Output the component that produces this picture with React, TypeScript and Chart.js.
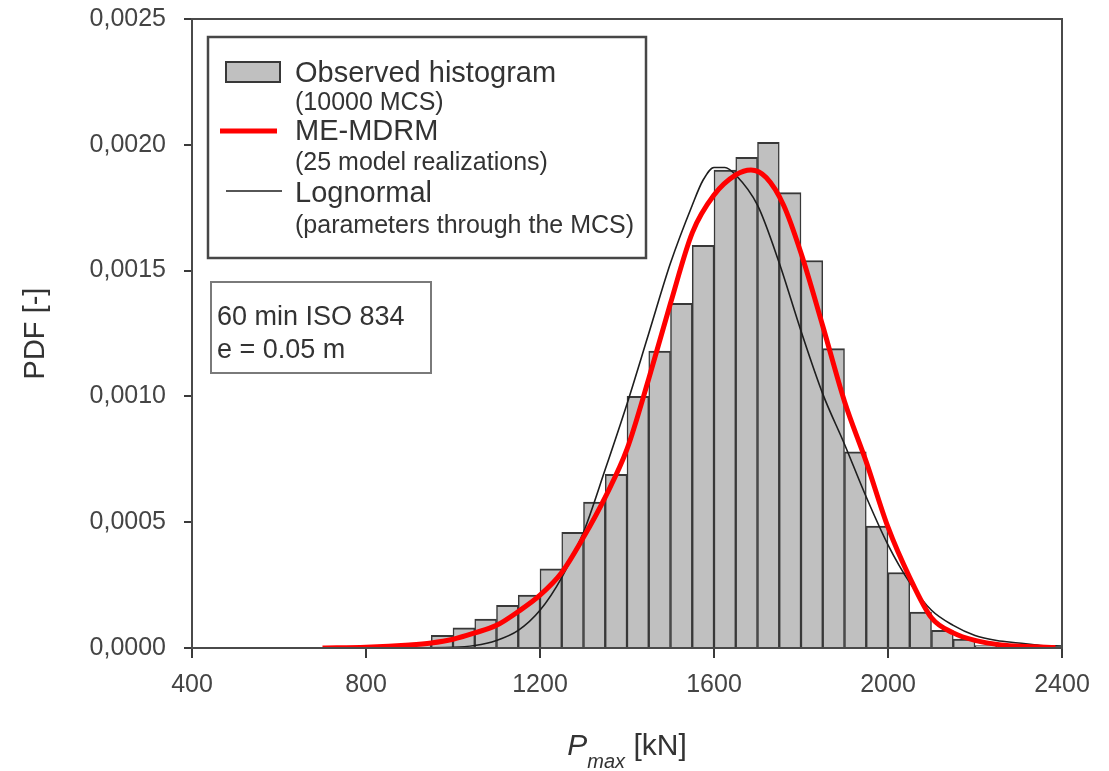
import React, { useEffect, useRef } from 'react';
import { Chart, registerables } from 'chart.js';

Chart.register(...registerables);

const FONT = "'Liberation Sans', Arial, Helvetica, sans-serif";

// Histogram (bin width 50 kN), bin centres and densities
const binCenters = [925, 975, 1025, 1075, 1125, 1175, 1225, 1275, 1325, 1375, 1425, 1475, 1525, 1575, 1625, 1675, 1725, 1775, 1825, 1875, 1925, 1975, 2025, 2075, 2125, 2175, 2225];
const histDensity = [0.00002, 0.00005, 0.00008, 0.000115, 0.00017, 0.00021, 0.000315, 0.00046, 0.00058, 0.00069, 0.001, 0.00118, 0.00137, 0.0016, 0.0019, 0.00195, 0.00201, 0.00181, 0.00154, 0.00119, 0.00078, 0.000485, 0.0003, 0.000143, 0.00007, 0.000035, 0.00001];

// ME-MDRM curve
const meX = [700, 800, 900, 950, 1000, 1050, 1100, 1150, 1200, 1250, 1300, 1350, 1400, 1450, 1500, 1550, 1600, 1650, 1685, 1720, 1760, 1800, 1850, 1900, 1950, 2000, 2050, 2100, 2150, 2200, 2260, 2320, 2385];
const meY = [0, 0.000003, 0.000012, 0.00002, 0.000035, 0.00006, 0.00009, 0.000145, 0.00021, 0.0003, 0.00044, 0.0006, 0.00079, 0.00107, 0.00137, 0.00165, 0.0018, 0.00188, 0.0019, 0.00187, 0.00176, 0.00157, 0.00128, 0.00098, 0.00074, 0.00048, 0.00028, 0.00012, 0.00006, 0.00003, 0.000012, 0.000006, 0.000002];

// Lognormal curve
const lnX = [400, 800, 1000, 1050, 1100, 1150, 1200, 1250, 1300, 1350, 1400, 1450, 1500, 1550, 1575, 1600, 1625, 1650, 1700, 1750, 1800, 1850, 1900, 1950, 2000, 2050, 2100, 2150, 2200, 2250, 2300, 2350, 2400];
const lnY = [0, 0, 0.000003, 0.00001, 0.00003, 0.00007, 0.00015, 0.00028, 0.00046, 0.00071, 0.00097, 0.00125, 0.00153, 0.00176, 0.00186, 0.00191, 0.00191, 0.00188, 0.00176, 0.00153, 0.00126, 0.00101, 0.00081, 0.0006, 0.00041, 0.00026, 0.00015, 0.00009, 0.00005, 0.00003, 0.00002, 0.00001, 0.000008];

const xRange = [400, 2400];
const xStep = 400;
const yRange = [0, 0.0025];
const yStep = 0.0005;

const legendLabels = ['Observed histogram', 'ME-MDRM', 'Lognormal'];
const legendSubLabels = ['(10000 MCS)', '(25 model realizations)', '(parameters through the MCS)'];
const noteLines = ['60 min ISO 834', 'e = 0.05 m'];
const yTitle = 'PDF [-]';
const xTitleMain = 'P';
const xTitleSub = 'max';
const xTitleUnit = ' [kN]';

const HIST_FILL = '#c0c0c0';
const HIST_EDGE = '#383838';
const RED = '#ff0000';
const BLACK = '#1e1e1e';

const decorPlugin = {
  id: 'decor',
  afterDraw(chart: any) {
    const ctx = chart.ctx as CanvasRenderingContext2D;
    const a = chart.chartArea;
    ctx.save();
    // frame
    ctx.strokeStyle = '#4a4a4a';
    ctx.lineWidth = 2;
    ctx.strokeRect(a.left, a.top, a.right - a.left, a.bottom - a.top);

    // legend box
    ctx.fillStyle = '#ffffff';
    ctx.fillRect(208, 37, 438, 221);
    ctx.strokeStyle = '#474747';
    ctx.lineWidth = 2.5;
    ctx.strokeRect(208, 37, 438, 221);

    // swatches
    ctx.fillStyle = HIST_FILL;
    ctx.fillRect(226, 62, 54, 20);
    ctx.strokeStyle = HIST_EDGE;
    ctx.lineWidth = 2;
    ctx.strokeRect(226, 62, 54, 20);

    ctx.strokeStyle = RED;
    ctx.lineWidth = 5;
    ctx.beginPath();
    ctx.moveTo(220, 131);
    ctx.lineTo(277, 131);
    ctx.stroke();

    ctx.strokeStyle = BLACK;
    ctx.lineWidth = 1.6;
    ctx.beginPath();
    ctx.moveTo(226, 191);
    ctx.lineTo(282, 191);
    ctx.stroke();

    ctx.fillStyle = '#333333';
    ctx.textAlign = 'left';
    ctx.textBaseline = 'alphabetic';
    const mainY = [82, 140, 202];
    const subY = [110, 170, 233];
    for (let i = 0; i < legendLabels.length; i++) {
      ctx.font = `29px ${FONT}`;
      ctx.fillText(legendLabels[i], 295, mainY[i]);
      ctx.font = `25px ${FONT}`;
      ctx.fillText(legendSubLabels[i], 295, subY[i]);
    }

    // note box
    ctx.fillStyle = '#ffffff';
    ctx.fillRect(211, 282, 220, 91);
    ctx.strokeStyle = '#7a7a7a';
    ctx.lineWidth = 2;
    ctx.strokeRect(211, 282, 220, 91);
    ctx.fillStyle = '#333333';
    ctx.font = `27px ${FONT}`;
    ctx.fillText(noteLines[0], 217, 325);
    ctx.fillText(noteLines[1], 217, 358);

    // x axis title with subscript
    const cx = (a.left + a.right) / 2;
    ctx.font = `italic 30px ${FONT}`;
    const wP = ctx.measureText(xTitleMain).width;
    ctx.font = `italic 20px ${FONT}`;
    const wS = ctx.measureText(xTitleSub).width;
    ctx.font = `30px ${FONT}`;
    const wU = ctx.measureText(xTitleUnit).width;
    let x = cx - (wP + wS + wU) / 2;
    ctx.fillStyle = '#333333';
    ctx.font = `italic 30px ${FONT}`;
    ctx.fillText(xTitleMain, x, 755);
    x += wP;
    ctx.font = `italic 20px ${FONT}`;
    ctx.fillText(xTitleSub, x, 768);
    x += wS;
    ctx.font = `30px ${FONT}`;
    ctx.fillText(xTitleUnit, x, 755);
    ctx.restore();
  },
};

export default function App() {
  const ref = useRef<HTMLCanvasElement | null>(null);
  useEffect(() => {
    if (!ref.current) return;
    const histData = binCenters.map((c, i) => ({ x: c, y: histDensity[i] }));
    const meData = meX.map((v, i) => ({ x: v, y: meY[i] }));
    const lnData = lnX.map((v, i) => ({ x: v, y: lnY[i] }));
    const chart = new Chart(ref.current, {
      type: 'bar',
      data: {
        datasets: [
          {
            type: 'line',
            label: legendLabels[1],
            data: meData,
            borderColor: RED,
            borderWidth: 5,
            pointRadius: 0,
            cubicInterpolationMode: 'monotone',
            fill: false,
            order: 1,
          } as any,
          {
            type: 'line',
            label: legendLabels[2],
            data: lnData,
            borderColor: BLACK,
            borderWidth: 1.6,
            pointRadius: 0,
            cubicInterpolationMode: 'monotone',
            fill: false,
            order: 2,
          } as any,
          {
            type: 'bar',
            label: legendLabels[0],
            data: histData,
            backgroundColor: HIST_FILL,
            borderColor: HIST_EDGE,
            borderWidth: { top: 2, left: 1.5, right: 1.5, bottom: 0 },
            borderSkipped: false,
            barPercentage: 1,
            categoryPercentage: 1,
            order: 3,
          } as any,
        ],
      },
      options: {
        responsive: true,
        maintainAspectRatio: false,
        animation: false,
        events: [],
        layout: { padding: { top: 19, right: 47, left: 0, bottom: 0 } },
        plugins: {
          legend: { display: false },
          tooltip: { enabled: false },
          title: { display: false },
        },
        scales: {
          x: {
            type: 'linear',
            min: xRange[0],
            max: xRange[1],
            offset: false,
            grid: { display: true, drawOnChartArea: false, drawTicks: true, tickLength: 10, color: '#3a3a3a', lineWidth: 2, offset: false },
            border: { display: true, color: '#3a3a3a', width: 2 },
            ticks: {
              stepSize: xStep,
              padding: 12,
              color: '#444444',
              font: { family: FONT, size: 25 },
              maxRotation: 0,
              callback: (v: any) => String(v),
            },
            afterFit: (s: any) => { s.height = 123; s.paddingLeft = 0; s.paddingRight = 0; },
          },
          y: {
            type: 'linear',
            min: yRange[0],
            max: yRange[1],
            grid: { display: true, drawOnChartArea: false, drawTicks: true, tickLength: 8, color: '#3a3a3a', lineWidth: 2 },
            border: { display: true, color: '#3a3a3a', width: 2 },
            ticks: {
              stepSize: yStep,
              padding: 18,
              color: '#444444',
              font: { family: FONT, size: 25 },
              callback: (v: any) => Number(v).toFixed(4).replace('.', ','),
            },
            title: {
              display: true,
              text: yTitle,
              color: '#333333',
              font: { family: FONT, size: 29 },
              padding: { top: 19, bottom: 0 },
            },
            afterFit: (s: any) => { s.width = 192; s.paddingTop = 0; s.paddingBottom = 0; },
          },
        },
      },
      plugins: [decorPlugin],
    });
    return () => chart.destroy();
  }, []);
  return (
    <div style={{ position: 'absolute', left: 0, top: 0, width: 1109, height: 771, background: '#ffffff' }}>
      <canvas ref={ref} />
    </div>
  );
}
